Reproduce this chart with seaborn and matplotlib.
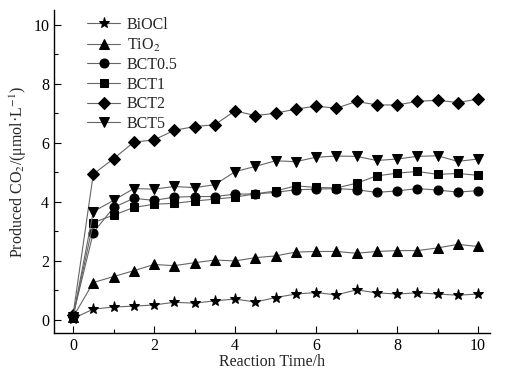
"""
Produced CO2 vs reaction time for BiOCl, TiO2 and BCT composites.
"""

import numpy as np
import pandas as pd
import matplotlib
matplotlib.use("Agg")
import matplotlib.pyplot as plt
import seaborn as sns
from matplotlib.ticker import MultipleLocator


TIME_H = [0, 0.5, 1, 1.5, 2, 2.5, 3, 3.5, 4, 4.5, 5,
          5.5, 6, 6.5, 7, 7.5, 8, 8.5, 9, 9.5, 10]

BIOCL = [0.05, 0.37, 0.44, 0.47, 0.51, 0.60, 0.57, 0.65, 0.71, 0.61, 0.76,
         0.88, 0.93, 0.85, 1.02, 0.92, 0.88, 0.92, 0.88, 0.84, 0.88]
TIO2 = [0.10, 1.27, 1.47, 1.67, 1.88, 1.84, 1.94, 2.03, 2.00, 2.11, 2.17,
        2.30, 2.32, 2.32, 2.26, 2.32, 2.35, 2.35, 2.44, 2.56, 2.49]
BCT05 = [0.15, 2.96, 3.81, 4.12, 4.05, 4.16, 4.18, 4.18, 4.26, 4.27, 4.32,
         4.41, 4.43, 4.45, 4.41, 4.32, 4.37, 4.45, 4.40, 4.33, 4.38]
BCT1 = [0.12, 3.30, 3.55, 3.81, 3.92, 3.95, 4.03, 4.09, 4.16, 4.27, 4.37,
        4.54, 4.49, 4.47, 4.63, 4.88, 4.97, 5.03, 4.93, 4.96, 4.90]
BCT2 = [0.18, 4.94, 5.46, 6.02, 6.10, 6.42, 6.55, 6.61, 7.08, 6.92, 7.00,
        7.14, 7.24, 7.17, 7.40, 7.28, 7.28, 7.40, 7.44, 7.36, 7.48]
BCT5 = [0.10, 3.67, 4.05, 4.45, 4.43, 4.52, 4.48, 4.58, 5.02, 5.20, 5.39,
        5.36, 5.51, 5.55, 5.54, 5.40, 5.45, 5.54, 5.56, 5.37, 5.45]

SERIES = ["BiOCl", "TiO$_2$", "BCT0.5", "BCT1", "BCT2", "BCT5"]
VALUES = [BIOCL, TIO2, BCT05, BCT1, BCT2, BCT5]
MARKERS = ["*", "^", "o", "s", "D", "v"]
SIZES = [8, 7, 6.5, 6, 6, 7]


def main():
    sns.set_style("ticks")
    plt.rcParams["font.family"] = ["Liberation Serif", "DejaVu Serif"]
    plt.rcParams["mathtext.fontset"] = "stix"
    plt.rcParams["font.size"] = 11.5

    fig = plt.figure(figsize=(5.23, 3.78), dpi=100)
    ax = fig.add_axes([0.1033, 0.119, 0.834, 0.855])

    for name, vals, mk, ms in zip(SERIES, VALUES, MARKERS, SIZES):
        df = pd.DataFrame({"t": TIME_H, "co2": vals})
        sns.lineplot(data=df, x="t", y="co2", ax=ax, label=name,
                     color="0.4", linewidth=0.8, marker=mk, markersize=ms,
                     markerfacecolor="black", markeredgecolor="black")

    ax.set_xlim(-0.47, 10.3)
    ax.set_ylim(-0.44, 10.5)
    ax.xaxis.set_major_locator(MultipleLocator(2))
    ax.xaxis.set_minor_locator(MultipleLocator(1))
    ax.yaxis.set_major_locator(MultipleLocator(2))
    ax.yaxis.set_minor_locator(MultipleLocator(1))
    ax.tick_params(which="both", direction="in", colors="black", labelsize=11.5)
    ax.tick_params(which="major", length=5, width=0.8)
    ax.tick_params(which="minor", length=3, width=0.8)
    sns.despine(ax=ax)
    for s in ("left", "bottom"):
        ax.spines[s].set_color("black")
        ax.spines[s].set_linewidth(1.0)

    ax.set_xlabel("Reaction Time/h", labelpad=0)
    ax.set_ylabel("Produced CO$_2$/(\u03bcmol\u00b7L$^{-1}$)", labelpad=3)

    ax.legend(loc="upper left", bbox_to_anchor=(0.075, 0.978), frameon=False,
              handlelength=2.1, handletextpad=0.4, labelspacing=0.22,
              borderpad=0, borderaxespad=0)

    fig.savefig("out.png", dpi=100)
    plt.close(fig)


if __name__ == "__main__":
    main()
